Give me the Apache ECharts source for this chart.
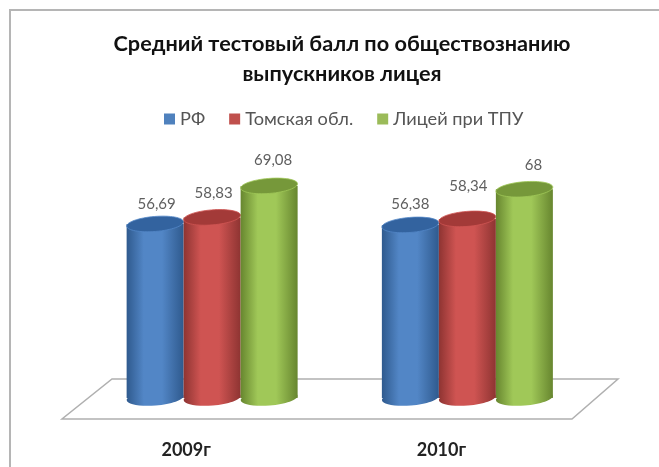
<!DOCTYPE html>
<html>
<head>
<meta charset="utf-8">
<style>html,body{margin:0;padding:0;background:#fff}#c{width:659px;height:467px}</style>
<script src="https://cdn.jsdelivr.net/npm/echarts@6/dist/echarts.min.js"></script>
</head>
<body>
<div id="c"></div>
<script>
const categories = ['2009г', '2010г'];
const seriesNames = ['РФ', 'Томская обл.', 'Лицей при ТПУ'];
const valuesRF = [56.69, 56.38];
const valuesTomsk = [58.83, 58.34];
const valuesLyceum = [69.08, 68];
const labelsRF = ['56,69', '56,38'];
const labelsTomsk = ['58,83', '58,34'];
const labelsLyceum = ['69,08', '68'];

const font = 'Lato, "Open Sans", "Noto Sans", sans-serif';
const palette = [
  {edge:'#2f5a8e', mid:'#5286c6', cap:'#33639f', legend:'#4f81bd'},
  {edge:'#8e3432', mid:'#cf5452', cap:'#a33a38', legend:'#c0504d'},
  {edge:'#67862f', mid:'#a0c858', cap:'#76983a', legend:'#9bbb59'}
];
const barW = 57;
const labelLift = [[20, 21], [24, 33], [26, 24]];
const labelShift = [[1.5, 0], [1.5, 1], [4, 9]];

function cylinder(si, values, labels) {
  const p = palette[si];
  return {
    name: seriesNames[si],
    type: 'custom',
    coordinateSystem: 'cartesian2d',
    itemStyle: {color: p.legend},
    data: categories.map((c, i) => [i, values[i]]),
    encode: {x: 0, y: 1},
    z: 2 + si,
    renderItem(params, api) {
      const i = api.value(0);
      const top = api.coord([i, api.value(1)]);
      const base = api.coord([i, 0]);
      const cx = top[0] + (si - 1) * barW;
      const rx = barW / 2, ry = 7.5, rot = 0.08;
      const grad = new echarts.graphic.LinearGradient(0, 0, 1, 0, [
        {offset: 0, color: p.edge},
        {offset: 0.3, color: p.mid},
        {offset: 0.62, color: p.mid},
        {offset: 1, color: p.edge}
      ]);
      return {
        type: 'group',
        children: [
          {type: 'ellipse', shape: {cx, cy: base[1], rx, ry}, originX: cx, originY: base[1], rotation: rot, style: {fill: grad}},
          {type: 'rect', shape: {x: cx - rx, y: top[1], width: barW, height: base[1] - top[1]}, style: {fill: grad}},
          {type: 'ellipse', shape: {cx, cy: top[1], rx, ry}, originX: cx, originY: top[1], rotation: rot, style: {fill: p.cap, stroke: p.mid, lineWidth: 0.8}},
          {type: 'text', style: {text: labels[i], x: cx + labelShift[si][i], y: top[1] - labelLift[si][i], align: 'center', verticalAlign: 'middle',
            fill: '#5f5f5f', font: '15px ' + font}}
        ]
      };
    }
  };
}

const chart = echarts.init(document.getElementById('c'), null, {renderer: 'canvas'});
chart.setOption({
  animation: false,
  backgroundColor: '#fff',
  title: {
    text: 'Средний тестовый балл по обществознанию\nвыпускников лицея',
    left: 337, top: 24, textAlign: 'center',
    textStyle: {fontFamily: font, fontWeight: 'bold', fontSize: 21.7, lineHeight: 30, color: '#111'}
  },
  legend: {
    data: seriesNames, left: 159, top: 105, icon: 'rect', itemWidth: 11, itemHeight: 11, itemGap: 24, itemStyle: {borderWidth: 0},
    textStyle: {fontFamily: font, fontSize: 18.2, color: '#555'}
  },
  grid: {left: 84.5, right: 64, top: 91, bottom: 69},
  xAxis: {
    type: 'category', data: categories,
    axisLine: {show: false}, axisTick: {show: false},
    axisLabel: {margin: 43, padding: [0, 52, 0, 0], fontFamily: font, fontWeight: 'bold', fontSize: 18, color: '#222'}
  },
  yAxis: {type: 'value', min: 0, max: 100, show: false, splitLine: {show: false}},
  graphic: [
    {type: 'polyline', shape: {points: [[10, 467], [10, 10], [659, 10]]}, style: {fill: 'none', stroke: '#b5b5b5', lineWidth: 2}},
    {type: 'polygon', shape: {points: [[112, 379], [618, 379], [572, 419], [62, 419]]}, style: {fill: '#fff', stroke: '#b0b0b0', lineWidth: 1.5}}
  ],
  series: [
    cylinder(0, valuesRF, labelsRF),
    cylinder(1, valuesTomsk, labelsTomsk),
    cylinder(2, valuesLyceum, labelsLyceum)
  ]
});
</script>
</body>
</html>
